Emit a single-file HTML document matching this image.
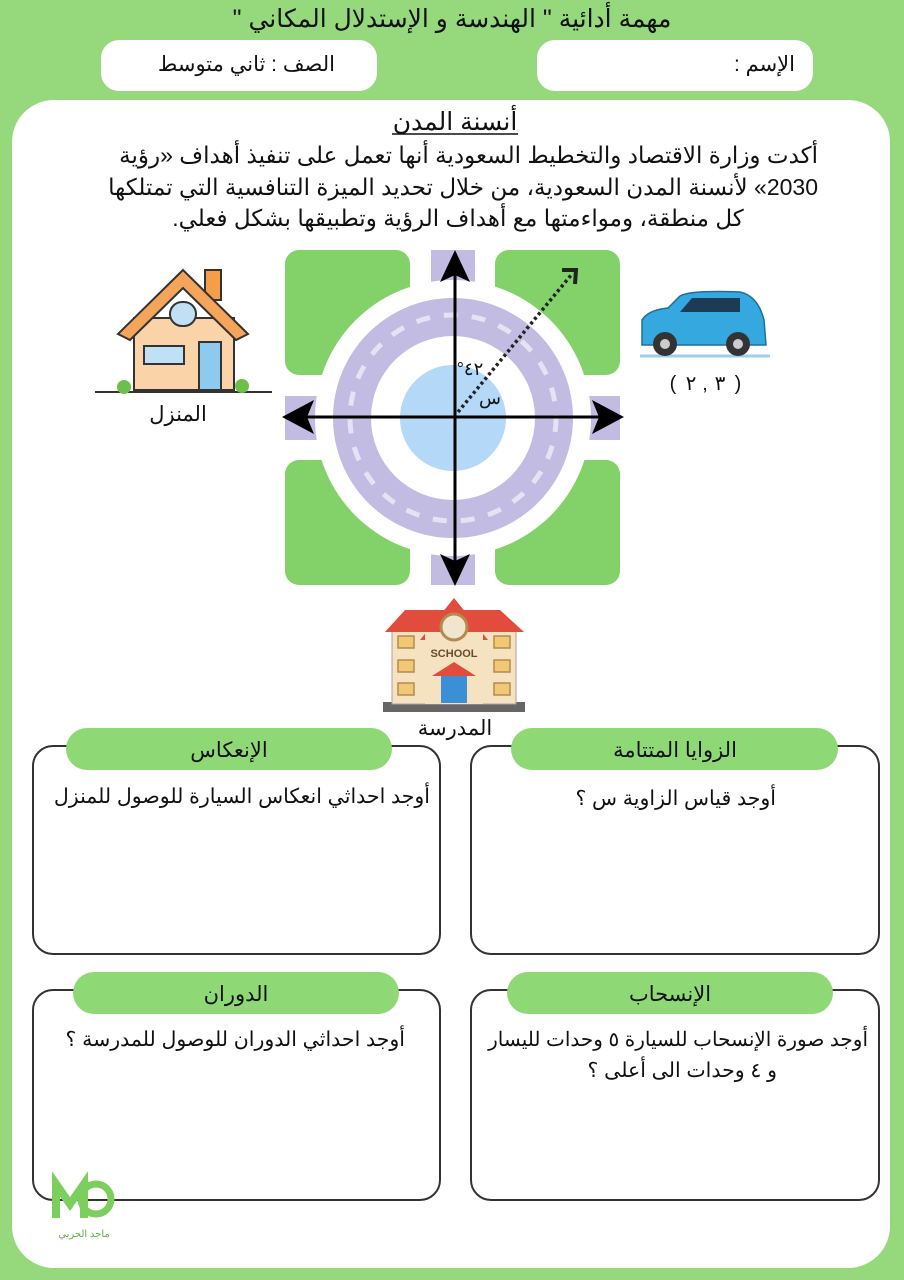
<!DOCTYPE html>
<html><head><meta charset="utf-8"><style>
html,body{margin:0;padding:0;background:#95d97c;}
svg{display:block}
text{font-family:"Liberation Sans","Noto Sans CJK SC",sans-serif;}
</style></head><body>
<svg width="904" height="1280" viewBox="0 0 904 1280" xmlns="http://www.w3.org/2000/svg">
<rect width="904" height="1280" fill="#95d97c"/>
<text x="452" y="27" font-size="25" text-anchor="middle" direction="rtl" fill="#111">مهمة أدائية " الهندسة و الإستدلال المكاني "</text>
<rect x="537" y="40" width="276" height="51" rx="18" fill="#fff"/>
<rect x="101" y="40" width="276" height="51" rx="18" fill="#fff"/>
<text x="795" y="71" font-size="21" text-anchor="start" direction="rtl" fill="#111">الإسم :</text>
<text x="335" y="71" font-size="21" text-anchor="start" direction="rtl" fill="#111">الصف :  ثاني متوسط</text>
<rect x="12" y="100" width="878" height="1168" rx="42" fill="#fff"/>
<text x="455" y="130" font-size="25" text-anchor="middle" direction="rtl" fill="#111">أنسنة المدن</text>
<line x1="392" y1="134" x2="518" y2="134" stroke="#111" stroke-width="1.5"/>
<text x="818" y="163" font-size="23" text-anchor="start" direction="rtl" fill="#111">أكدت وزارة الاقتصاد والتخطيط السعودية أنها تعمل على تنفيذ أهداف «رؤية</text>
<text x="818" y="195" font-size="23" text-anchor="start" direction="rtl" fill="#111">2030» لأنسنة المدن السعودية، من خلال تحديد الميزة التنافسية التي تمتلكها</text>
<text x="458" y="226" font-size="23" text-anchor="middle" direction="rtl" fill="#111">كل منطقة، ومواءمتها مع أهداف الرؤية وتطبيقها بشكل فعلي.</text>
<!-- roundabout -->
<g>
<rect x="285" y="250" width="125" height="125" rx="14" fill="#82d169"/>
<rect x="495" y="250" width="125" height="125" rx="14" fill="#82d169"/>
<rect x="285" y="460" width="125" height="125" rx="14" fill="#82d169"/>
<rect x="495" y="460" width="125" height="125" rx="14" fill="#82d169"/>
<rect x="431" y="250" width="44" height="335" fill="#c2bce2"/>
<rect x="285" y="396" width="335" height="44" fill="#c2bce2"/>
<circle cx="453" cy="418" r="138" fill="#fff"/>
<circle cx="453" cy="418" r="120" fill="#c2bce2"/>
<circle cx="453" cy="418" r="103" fill="none" stroke="#e6e2f4" stroke-width="5" stroke-dasharray="14 14"/>
<circle cx="453" cy="418" r="82" fill="#fff"/>
<circle cx="453" cy="418" r="53" fill="#b3d8f8"/>
<line x1="455" y1="265" x2="455" y2="572" stroke="#000" stroke-width="3"/>
<line x1="298" y1="417" x2="608" y2="417" stroke="#000" stroke-width="3"/>
<polygon points="455,250 440,282 455,275 470,282" fill="#000"/>
<polygon points="455,586 440,554 455,561 470,554" fill="#000"/>
<polygon points="282,417 314,400 307,417 314,434" fill="#000"/>
<polygon points="624,417 592,400 599,417 592,434" fill="#000"/>
<line x1="458" y1="412" x2="572" y2="274" stroke="#222" stroke-width="3.5" stroke-dasharray="3 3"/>
<polyline points="562,270 576,270 575,284" fill="none" stroke="#222" stroke-width="4"/>
<text x="470" y="375" font-size="18" text-anchor="middle" direction="ltr" unicode-bidi="bidi-override" fill="#111">°٤٢</text>
<text x="490" y="404" font-size="18" text-anchor="middle" fill="#111">س</text>
</g>
<!-- house -->
<g>
<line x1="95" y1="392" x2="272" y2="392" stroke="#333" stroke-width="2"/>
<rect x="205" y="270" width="16" height="30" fill="#f59e4a" stroke="#333" stroke-width="2"/>
<rect x="134" y="318" width="100" height="72" fill="#fbd3a8" stroke="#333" stroke-width="2"/>
<polygon points="183,270 118,334 130,340 183,288 236,340 248,334" fill="#f5a55a" stroke="#333" stroke-width="2"/>
<rect x="170" y="302" width="26" height="24" rx="12" fill="#bfe0f5" stroke="#333" stroke-width="2"/>
<rect x="144" y="346" width="40" height="18" fill="#bfe0f5" stroke="#333" stroke-width="2"/>
<rect x="199" y="342" width="22" height="48" fill="#8ec9ee" stroke="#333" stroke-width="2"/>
<circle cx="124" cy="387" r="7" fill="#6cc04a"/><circle cx="242" cy="386" r="7" fill="#6cc04a"/>
</g>
<text x="178" y="421" font-size="21" text-anchor="middle" direction="rtl" fill="#111">المنزل</text>
<!-- car -->
<g>
<line x1="640" y1="356" x2="770" y2="356" stroke="#9ad0ee" stroke-width="3"/>
<path d="M642,345 L642,320 Q648,310 668,308 L680,296 Q690,290 740,292 Q758,296 764,320 L766,345 Z" fill="#35a8e0" stroke="#1f6f9a" stroke-width="1.5"/>
<path d="M680,312 L692,298 L740,298 L740,312 Z" fill="#1e3b55"/>
<circle cx="665" cy="344" r="12" fill="#333"/><circle cx="665" cy="344" r="5" fill="#ccc"/>
<circle cx="738" cy="344" r="12" fill="#333"/><circle cx="738" cy="344" r="5" fill="#ccc"/>
</g>
<g font-size="20" text-anchor="middle" fill="#111">
<text x="673" y="390">(</text><text x="691" y="390">٢</text><text x="705" y="390">,</text><text x="720" y="390">٣</text><text x="738" y="390">)</text>
</g>
<!-- school -->
<g>
<rect x="383" y="702" width="142" height="10" fill="#666"/>
<rect x="392" y="630" width="124" height="74" fill="#f5e2c0" stroke="#b99" stroke-width="1"/>
<polygon points="385,632 405,610 500,610 524,632" fill="#e24c3c"/>
<polygon points="420,640 454,598 488,640" fill="#e24c3c"/>
<rect x="425" y="632" width="58" height="72" fill="#f5e2c0"/>
<circle cx="454" cy="627" r="13" fill="#f0e6d0" stroke="#b48a50" stroke-width="3"/>
<text x="454" y="657" font-size="11" font-weight="bold" text-anchor="middle" fill="#6b4a2a">SCHOOL</text>
<polygon points="432,676 454,662 476,676" fill="#e24c3c"/>
<rect x="441" y="676" width="26" height="27" fill="#3a8fd6"/>
<g fill="#f2c874" stroke="#b48a50" stroke-width="1.5">
<rect x="398" y="636" width="16" height="12"/><rect x="398" y="660" width="16" height="12"/><rect x="398" y="683" width="16" height="12"/>
<rect x="494" y="636" width="16" height="12"/><rect x="494" y="660" width="16" height="12"/><rect x="494" y="683" width="16" height="12"/>
</g>
</g>
<text x="455" y="735" font-size="21" text-anchor="middle" direction="rtl" fill="#111">المدرسة</text>
<!-- boxes -->
<g fill="#fff" stroke="#333" stroke-width="2">
<rect x="33" y="746" width="407" height="208" rx="20"/>
<rect x="471" y="746" width="408" height="208" rx="20"/>
<rect x="33" y="990" width="407" height="210" rx="20"/>
<rect x="471" y="990" width="408" height="210" rx="20"/>
</g>
<g fill="#8fd876">
<rect x="66" y="728" width="326" height="42" rx="21"/>
<rect x="511" y="728" width="327" height="42" rx="21"/>
<rect x="73" y="972" width="326" height="42" rx="21"/>
<rect x="507" y="972" width="326" height="42" rx="21"/>
</g>
<g font-size="21" text-anchor="middle" direction="rtl" fill="#111">
<text x="229" y="757">الإنعكاس</text>
<text x="675" y="757">الزوايا المتتامة</text>
<text x="236" y="1001">الدوران</text>
<text x="670" y="1001">الإنسحاب</text>
</g>
<g font-size="20.5" text-anchor="start" direction="rtl" fill="#111">
<text x="430" y="803">أوجد احداثي انعكاس السيارة للوصول للمنزل</text>
<text x="776" y="805">أوجد قياس الزاوية س ؟</text>
<text x="405" y="1046">أوجد احداثي الدوران للوصول للمدرسة ؟</text>
<text x="868" y="1046" font-size="20">أوجد صورة الإنسحاب للسيارة ٥ وحدات لليسار</text>
<text x="777" y="1077">و ٤ وحدات الى أعلى ؟</text>
</g>
<!-- logo -->
<path d="M56,1218 L56,1184 L70,1204 L84,1184 L84,1218" fill="none" stroke="#7ccf5c" stroke-width="8"/>
<circle cx="96" cy="1199" r="15" fill="none" stroke="#7ccf5c" stroke-width="7"/>
<text x="84" y="1237" font-size="10" text-anchor="middle" direction="rtl" fill="#5fae44">ماجد الحربي</text>
</svg>
</body></html>
